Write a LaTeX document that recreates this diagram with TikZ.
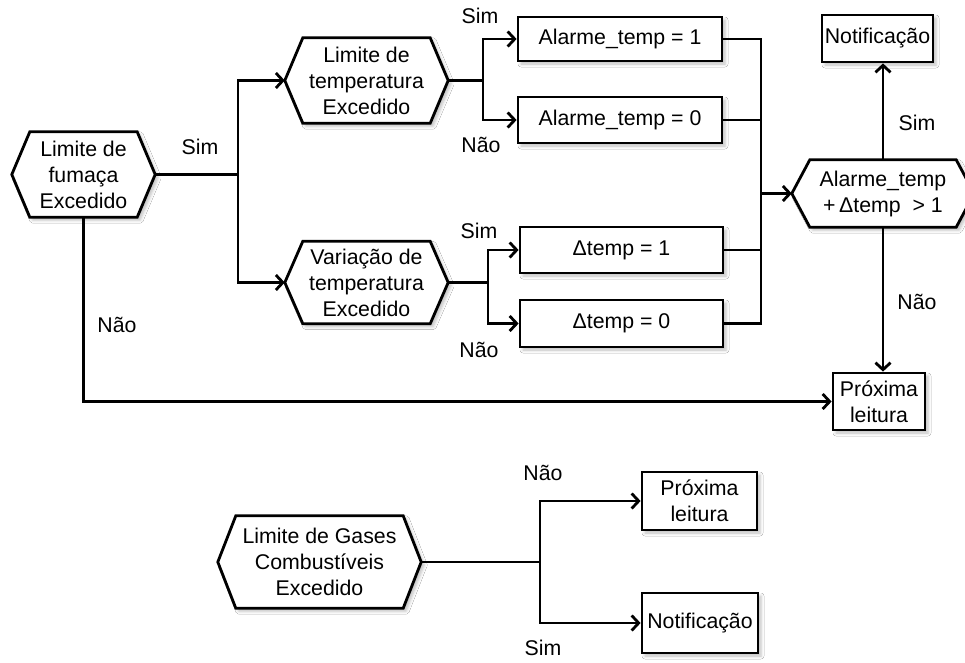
\documentclass[tikz,border=0pt]{standalone}
\usepackage{fontspec}
\setmainfont{Liberation Sans}
\usetikzlibrary{arrows.meta,shadows.blur,backgrounds}

\begin{document}
\begin{tikzpicture}[x=1pt,y=-1pt,
  every node/.style={font=\fontsize{21.3}{26}\selectfont},
  wire/.style={line width=2.8pt},
  arr/.style={wire,-{Straight Barb[length=7pt,width=15pt]}},
  softshadow/.style={blur shadow={shadow xshift=3pt,shadow yshift=-3pt,shadow opacity=25,shadow blur radius=3pt}},
  box/.style={draw,line width=2.8pt,fill=white,softshadow,inner sep=0pt,align=center},
  hexnode/.style={inner sep=0pt,align=center},
  hexline/.style={draw,line width=2.8pt,fill=white,softshadow,line join=miter},
  lbl/.style={inner sep=0pt}
]
\clip (0,0) rectangle (965,662);

% decision nodes (hexagon outlines are drawn on the background layer)
\node[hexnode,minimum width=143pt,minimum height=85pt] (h1) at (83.5,174.5) {Limite de\\fumaça\\Excedido};
\node[hexnode,minimum width=163pt,minimum height=85pt] (h2) at (366.5,80.5) {Limite de\\temperatura\\Excedido};
\node[hexnode,minimum width=163pt,minimum height=82pt] (h3) at (366.5,282.5) {Variação de\\temperatura\\Excedido};
\node[hexnode,minimum width=182pt,minimum height=67pt] (h4) at (883,193.5) {Alarme\_temp\\+\,Δtemp \ > 1};
\node[hexnode,minimum width=203pt,minimum height=92pt] (h5) at (319.5,562) {Limite de Gases\\Combustíveis\\Excedido};

% action boxes
\node[box,minimum width=204pt,minimum height=44pt] (b1) at (620,39) {Alarme\_temp = 1};
\node[box,minimum width=204pt,minimum height=46pt] (b2) at (620,120) {Alarme\_temp = 0};
\node[box,minimum width=203pt,minimum height=46pt] (b3) at (621.5,250) {Δtemp = 1};
\node[box,minimum width=203pt,minimum height=47pt] (b4) at (621.5,323.5) {Δtemp = 0};
\node[box,minimum width=111pt,minimum height=47pt] (n1) at (877.5,38.5) {Notificação};
\node[box,minimum width=92pt,minimum height=57pt] (p1) at (879,401.5) {Próxima\\leitura};
\node[box,minimum width=115pt,minimum height=58pt] (p2) at (699.5,501) {Próxima\\leitura};
\node[box,minimum width=116pt,minimum height=60pt] (n2) at (700,623) {Notificação};

\begin{pgfonlayer}{background}
  \fill[white] (0,0) rectangle (965,662);
  \foreach \h in {h1,h2,h3,h4,h5}
    \path[hexline] (\h.west) -- ([xshift=18pt]\h.north west) -- ([xshift=-18pt]\h.north east)
      -- (\h.east) -- ([xshift=-18pt]\h.south east) -- ([xshift=18pt]\h.south west) -- cycle;
\end{pgfonlayer}

% branch points
\coordinate (j1) at (238,174.5);
\coordinate (j2) at (483,80.5);
\coordinate (j3) at (488,282.5);
\coordinate (bus) at (761,193.5);
\coordinate (j5) at (540,562);

% connectors
\draw[wire] (h1.east) -- (j1);
\draw[arr] (j1) |- (h2.west);
\draw[arr] (j1) |- (h3.west);
\draw[wire] (h2.east) -- (j2);
\draw[arr] (j2) |- (b1.west);
\draw[arr] (j2) |- (b2.west);
\draw[wire] (h3.east) -- (j3);
\draw[arr] (j3) |- (b3.west);
\draw[arr] (j3) |- (b4.west);
\draw[wire] (b1.east) -| (bus);
\draw[wire] (b2.east) -| (bus);
\draw[wire] (b3.east) -| (bus);
\draw[wire] (b4.east) -| (bus);
\draw[arr] (bus) -- (h4.west);
\draw[arr] (h4.north) -- (h4.north |- n1.south);
\draw[arr] (h4.south) -- (h4.south |- p1.north);
\draw[arr] (h1.south) |- (p1.west);
\draw[wire] (h5.east) -- (j5);
\draw[arr] (j5) |- (p2.west);
\draw[arr] (j5) |- (n2.west);

% branch labels
\node[lbl] (ls1) at (200,147) {Sim};
\node[lbl] (ln1) at (117,325) {Não};
\node[lbl] (ls2) at (480,16) {Sim};
\node[lbl] (ln2) at (481,145) {Não};
\node[lbl] (ls3) at (479,231) {Sim};
\node[lbl] (ln3) at (479,350) {Não};
\node[lbl] (ls4) at (917,123) {Sim};
\node[lbl] (ln4) at (917,302) {Não};
\node[lbl] (ln5) at (543,473) {Não};
\node[lbl] (ls5) at (543,648) {Sim};
\end{tikzpicture}
\end{document}
